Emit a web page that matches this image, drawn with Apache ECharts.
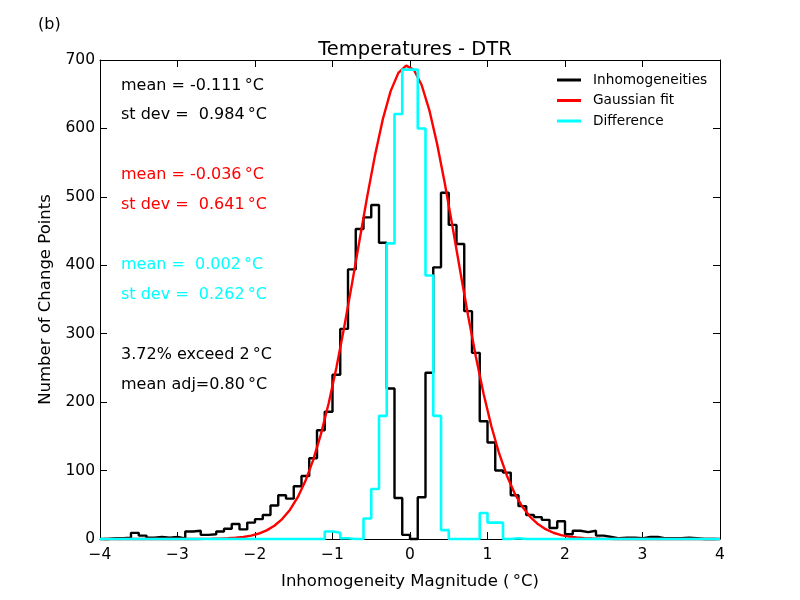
<!DOCTYPE html>
<html>
<head>
<meta charset="utf-8">
<script src="https://cdn.jsdelivr.net/npm/echarts@6/dist/echarts.min.js"></script>
<style>
html,body{margin:0;padding:0;background:#fff;}
#chart{width:800px;height:600px;}
</style>
</head>
<body>
<div id="chart"></div>
<script>
// Histogram bin left edges (bin width 0.1)
var binLeft = [-4.0,-3.9,-3.8,-3.7,-3.6,-3.5,-3.4,-3.3,-3.2,-3.1,-3.0,-2.9,-2.8,-2.7,-2.6,-2.5,-2.4,-2.3,-2.2,-2.1,
  -2.0,-1.9,-1.8,-1.7,-1.6,-1.5,-1.4,-1.3,-1.2,-1.1,-1.0,-0.9,-0.8,-0.7,-0.6,-0.5,-0.4,-0.3,-0.2,-0.1,
  0.0,0.1,0.2,0.3,0.4,0.5,0.6,0.7,0.8,0.9,1.0,1.1,1.2,1.3,1.4,1.5,1.6,1.7,1.8,1.9,
  2.0,2.1,2.2,2.3,2.4,2.5,2.6,2.7,2.8,2.9,3.0,3.1,3.2,3.3,3.4,3.5,3.6,3.7,3.8,3.9];
var binRightEnd = 4.0;

// Inhomogeneities counts per bin
var inhomCounts = [0,1,1,2,9,5,2,3,2,3,1,11,12,6,7,11,15,22,14,24,
  29,35,49,64,59,77,92,118,159,186,240,307,394,453,470,488,433,220,60,6,
  0,61,243,397,506,459,431,333,272,172,141,100,97,64,48,35,32,28,16,26,
  7,12,10,12,5,3,1,2,2,1,3,3,1,1,1,2,1,0,0,0];

// Difference counts per bin
var diffCounts = [0,0,0,0,0,0,0,0,0,0,0,0,0,0,0,0,0,0,0,0,
  0,0,0,0,0,0,0,0,0,11,9,1,0,0,30,73,180,432,621,686,
  686,600,385,180,13,0,0,0,0,38,24,24,0,1,0,0,0,0,0,0,
  0,0,0,0,0,0,0,0,0,0,0,0,0,0,0,0,0,0,0,0];

// Gaussian fit curve sampled at bin centres
var fitX = [-3.95,-3.85,-3.75,-3.65,-3.55,-3.45,-3.35,-3.25,-3.15,-3.05,-2.95,-2.85,-2.75,-2.65,-2.55,-2.45,-2.35,-2.25,-2.15,-2.05,
  -1.95,-1.85,-1.75,-1.65,-1.55,-1.45,-1.35,-1.25,-1.15,-1.05,-0.95,-0.85,-0.75,-0.65,-0.55,-0.45,-0.35,-0.25,-0.15,-0.05,
  0.05,0.15,0.25,0.35,0.45,0.55,0.65,0.75,0.85,0.95,1.05,1.15,1.25,1.35,1.45,1.55,1.65,1.75,1.85,1.95,
  2.05,2.15,2.25,2.35,2.45,2.55,2.65,2.75,2.85,2.95,3.05,3.15,3.25,3.35,3.45,3.55,3.65,3.75,3.85,3.95];
var fitY = [0,0,0,0,0,0,0,0,0,0,0,0,0.1,0.2,0.3,0.6,1.0,1.8,3.0,5.0,
  8.0,12.6,19.4,29.1,42.5,60.7,84.6,115.2,152.9,198.0,250.4,309.0,372.1,437.4,501.8,561.7,613.7,654.5,681.2,691.8,
  685.8,663.5,626.5,577.3,519.1,455.6,390.3,326.3,266.2,212.0,164.8,125.0,92.5,66.8,47.1,32.4,21.8,14.3,9.1,5.7,
  3.5,2.1,1.2,0.7,0.4,0.2,0.1,0,0,0,0,0,0,0,0,0,0,0,0,0];

var seriesNames = ['Inhomogeneities', 'Gaussian fit', 'Difference'];
var annotations = [
  {text: 'mean = -0.111\u2009\u00b0C', color: '#000000'},
  {text: 'st dev =  0.984\u2009\u00b0C', color: '#000000'},
  {text: 'mean = -0.036\u2009\u00b0C', color: '#ff0000'},
  {text: 'st dev =  0.641\u2009\u00b0C', color: '#ff0000'},
  {text: 'mean =  0.002\u2009\u00b0C', color: '#00ffff'},
  {text: 'st dev =  0.262\u2009\u00b0C', color: '#00ffff'},
  {text: '3.72% exceed 2\u2009\u00b0C', color: '#000000'},
  {text: 'mean adj=0.80\u2009\u00b0C', color: '#000000'}
];
var annotationTops = [85, 114, 174, 204, 264, 294, 354, 384];

function stepData(counts) {
  var d = [];
  for (var i = 0; i < binLeft.length; i++) d.push([binLeft[i], counts[i]]);
  d.push([binRightEnd, counts[counts.length - 1]]);
  return d;
}
function pairs(xs, ys) {
  var d = [];
  for (var i = 0; i < xs.length; i++) d.push([xs[i], ys[i]]);
  return d;
}

var FONT = 'DejaVu Sans';
var chart = echarts.init(document.getElementById('chart'), null, {renderer: 'canvas'});

var graphics = [
  {type: 'text', left: 38, top: 17, style: {text: '(b)', fontSize: 16, fontFamily: FONT, fill: '#000'}}
];
annotations.forEach(function (a, i) {
  graphics.push({type: 'text', left: 121, top: annotationTops[i] - 7,
    style: {text: a.text, fontSize: 16, fontFamily: FONT, fill: a.color}});
});

function minusFmt(v) { return String(v).replace('-', '\u2212'); }

var option = {
  animation: false,
  backgroundColor: '#ffffff',
  title: {
    text: 'Temperatures - DTR',
    left: 410, top: 35, textAlign: 'center',
    textStyle: {fontSize: 19.5, fontWeight: 'normal', fontFamily: FONT, color: '#000'}
  },
  legend: {
    orient: 'vertical',
    left: 552, top: 68,
    itemWidth: 24, itemHeight: 3, itemGap: 6.5,
    icon: 'rect',
    textStyle: {fontSize: 13.7, fontFamily: FONT, color: '#000', padding: [0, 0, 0, 7]},
    data: seriesNames
  },
  grid: {left: 100, right: 80, top: 60, bottom: 61, containLabel: false},
  xAxis: [{
    type: 'value', min: -4, max: 4, interval: 1,
    name: 'Inhomogeneity Magnitude (\u2009\u00b0C)', nameLocation: 'middle', nameGap: 34,
    nameTextStyle: {fontSize: 16.5, fontFamily: FONT, color: '#000'},
    axisLine: {show: true, onZero: false, lineStyle: {color: '#000', width: 1}},
    axisTick: {show: true, inside: true, length: 7, lineStyle: {color: '#000'}},
    axisLabel: {fontSize: 15.5, fontFamily: FONT, color: '#000', margin: 8, formatter: minusFmt},
    splitLine: {show: false}
  }, {
    type: 'value', min: -4, max: 4, interval: 1, position: 'top',
    axisLine: {show: true, onZero: false, lineStyle: {color: '#000', width: 1}},
    axisTick: {show: true, inside: true, length: 7, lineStyle: {color: '#000'}},
    axisLabel: {show: false}, splitLine: {show: false}
  }],
  yAxis: [{
    type: 'value', min: 0, max: 700, interval: 100,
    name: 'Number of Change Points', nameLocation: 'middle', nameGap: 43,
    nameTextStyle: {fontSize: 16.5, fontFamily: FONT, color: '#000'},
    axisLine: {show: true, onZero: false, lineStyle: {color: '#000', width: 1}},
    axisTick: {show: true, inside: true, length: 7, lineStyle: {color: '#000'}},
    axisLabel: {fontSize: 15.5, fontFamily: FONT, color: '#000', margin: 5},
    splitLine: {show: false}
  }, {
    type: 'value', min: 0, max: 700, interval: 100, position: 'right',
    axisLine: {show: true, onZero: false, lineStyle: {color: '#000', width: 1}},
    axisTick: {show: true, inside: true, length: 7, lineStyle: {color: '#000'}},
    axisLabel: {show: false}, splitLine: {show: false}
  }],
  series: [{
    name: seriesNames[0], type: 'line', step: 'end', xAxisIndex: 0, yAxisIndex: 0,
    data: stepData(inhomCounts), showSymbol: false, clip: false,
    lineStyle: {color: '#000000', width: 2.4}, itemStyle: {color: '#000000'}
  }, {
    name: seriesNames[1], type: 'line', xAxisIndex: 0, yAxisIndex: 0,
    data: pairs(fitX, fitY), showSymbol: false, clip: false, smooth: false,
    lineStyle: {color: '#ff0000', width: 2.4}, itemStyle: {color: '#ff0000'}
  }, {
    name: seriesNames[2], type: 'line', step: 'end', xAxisIndex: 0, yAxisIndex: 0,
    data: stepData(diffCounts), showSymbol: false, clip: false,
    lineStyle: {color: '#00ffff', width: 2.6}, itemStyle: {color: '#00ffff'}
  }],
  graphic: graphics
};
chart.setOption(option);
</script>
</body>
</html>
